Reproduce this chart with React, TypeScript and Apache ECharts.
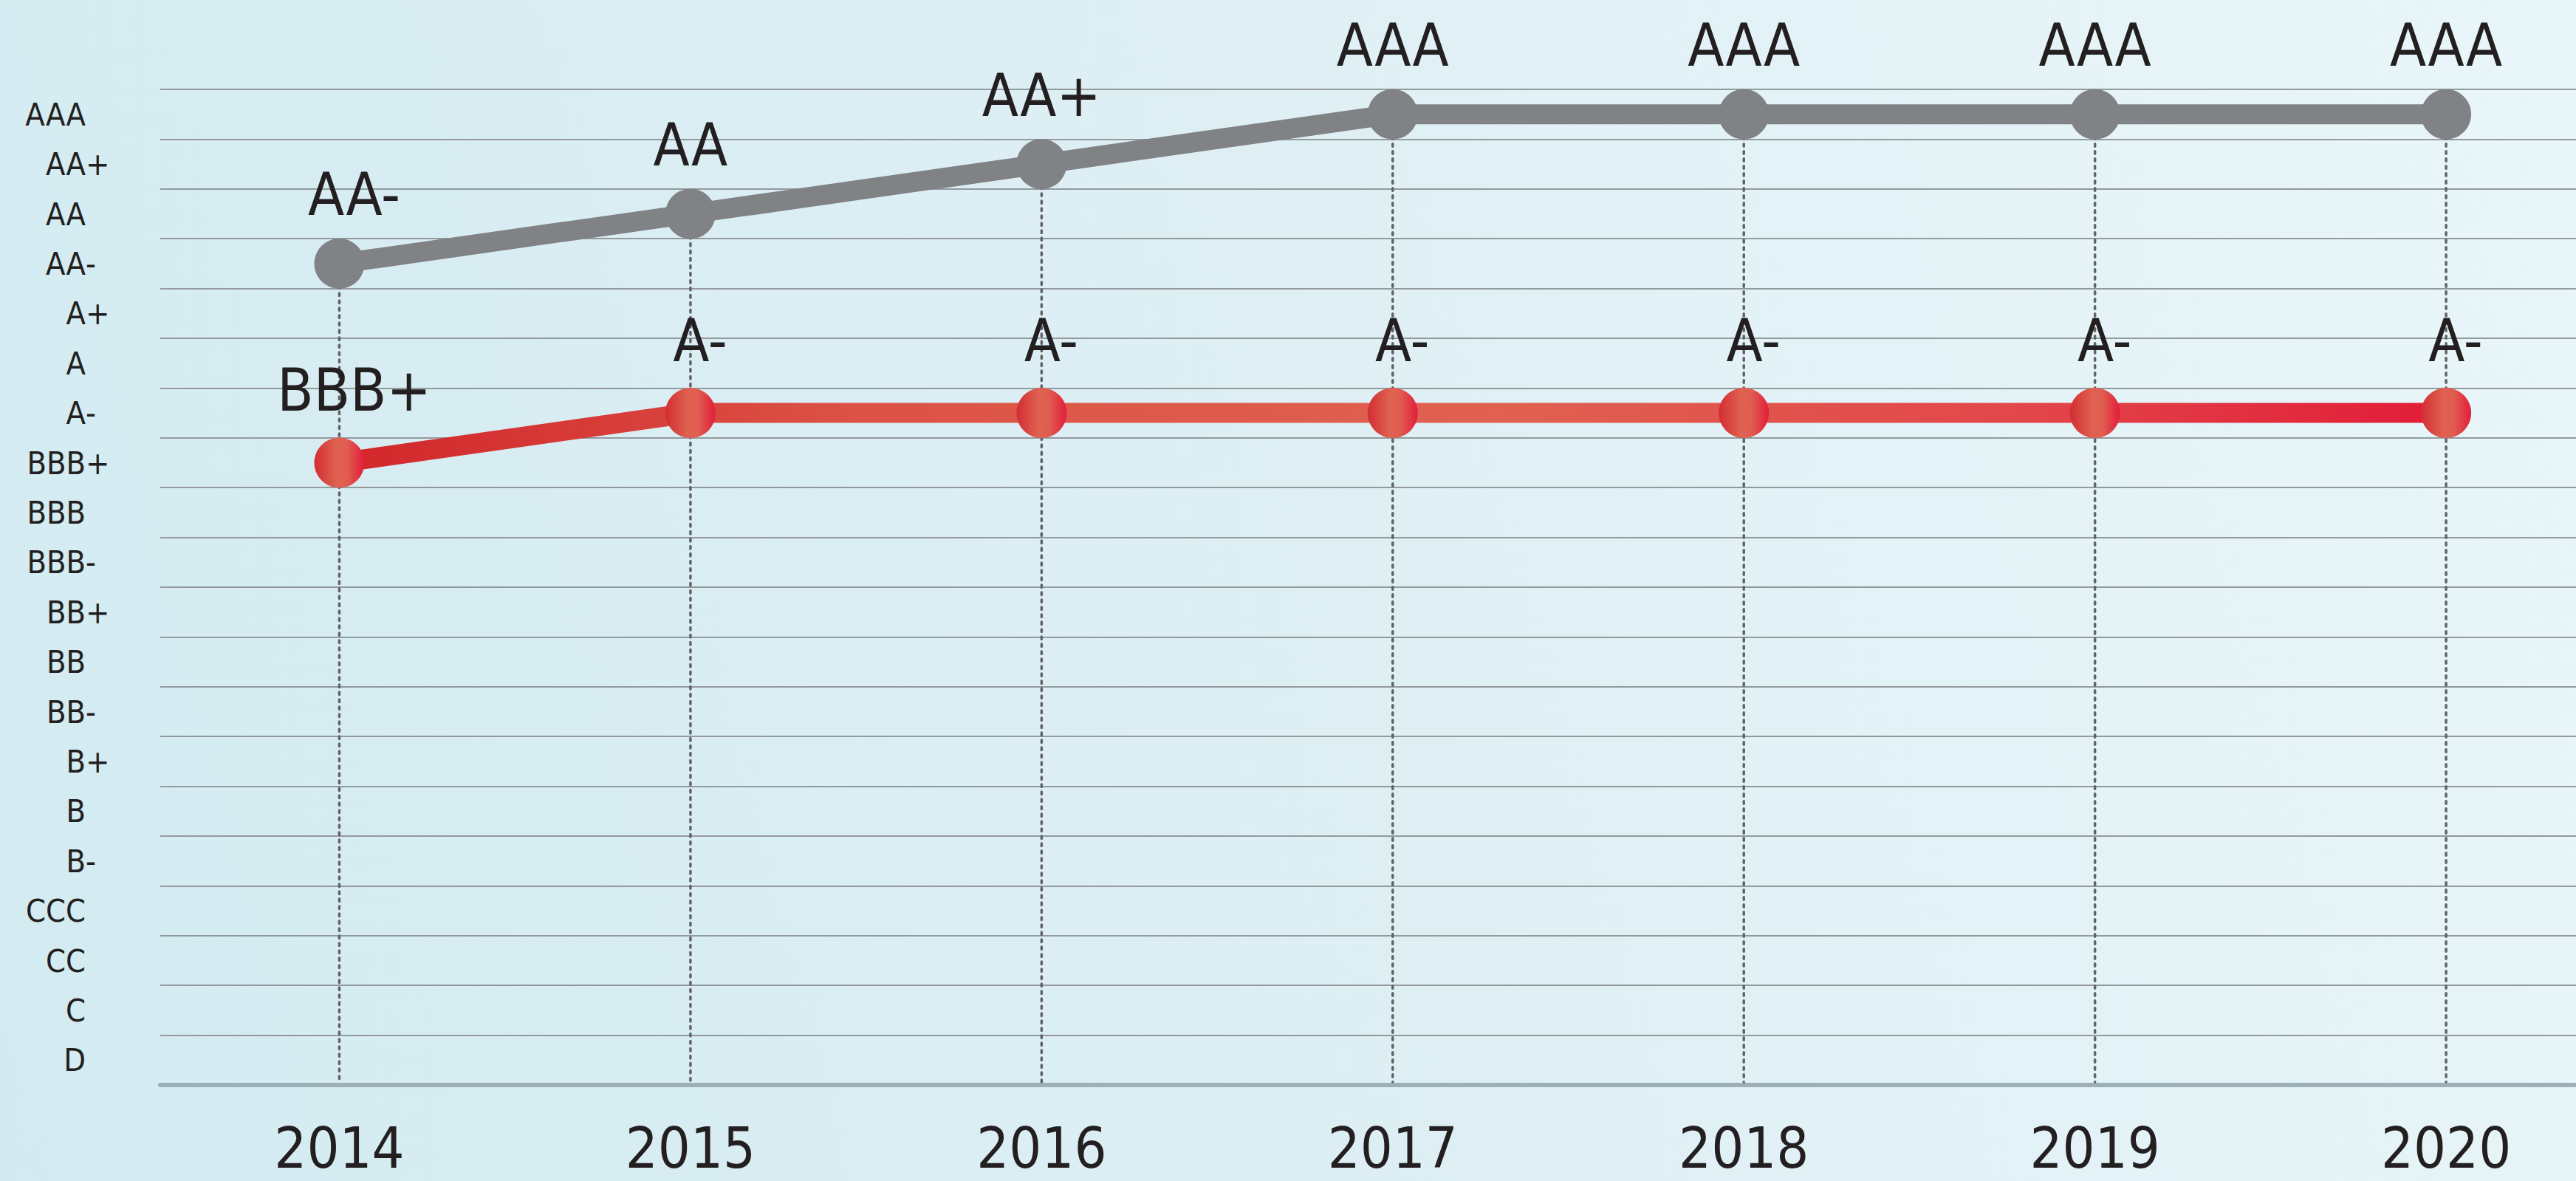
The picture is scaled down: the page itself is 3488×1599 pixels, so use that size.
import React, { useEffect, useRef } from "react";
import * as echarts from "echarts";

const years = [2014, 2015, 2016, 2017, 2018, 2019, 2020];
const ratings = ["AAA", "AA+", "AA", "AA-", "A+", "A", "A-", "BBB+", "BBB", "BBB-", "BB+", "BB", "BB-", "B+", "B", "B-", "CCC", "CC", "C", "D"];
const grayRatings = ["AA-", "AA", "AA+", "AAA", "AAA", "AAA", "AAA"];
const redRatings = ["BBB+", "A-", "A-", "A-", "A-", "A-", "A-"];

const FONT = '"Liberation Sans Narrow", "DejaVu Sans Condensed", "Roboto Condensed", Roboto, sans-serif';
const TEXT = "#231f20";

export default function App() {
  const ref = useRef<HTMLDivElement>(null);
  useEffect(() => {
    document.body.style.margin = "0";
    const chart = echarts.init(ref.current!, null, { renderer: "svg" });
    const grayData = years.map((y, i) => [y, grayRatings[i]]);
    const redData = years.map((y, i) => [y, redRatings[i]]);
    const firstShift = (d: any[], i: number) => (i === 0 ? { value: d, label: { offset: [20, 0] } } : d);
    const option: any = {
      animation: false,
      backgroundColor: "transparent",
      grid: { left: 217, right: 0, top: 121, bottom: 130, containLabel: false, outerBoundsMode: "none" },
      xAxis: {
        type: "value",
        min: 2013.49,
        max: 2020.37,
        splitLine: { show: false },
        axisTick: { show: false },
        axisLine: { show: true, lineStyle: { color: "#9db0b7", width: 6 } },
        axisLabel: {
          customValues: years,
          formatter: (v: number) => String(v),
          fontFamily: FONT,
          fontSize: 77,
          lineHeight: 77,
          color: TEXT,
          margin: 47,
        },
      },
      yAxis: {
        type: "category",
        data: ratings,
        inverse: true,
        boundaryGap: true,
        axisLine: { show: false },
        axisTick: { show: false },
        splitLine: { show: true, lineStyle: { color: "#929a9e", width: 2 } },
        axisLabel: {
          margin: 71,
          formatter: (v: string) => {
            const m = v.match(/^([A-D]+)([+-]?)$/);
            const letters = m ? m[1] : v;
            const sign = m && m[2] ? m[2] : " ";
            return `{t|${letters}}{s|${sign}}`;
          },
          rich: {
            t: { fontFamily: FONT, fontSize: 43, color: TEXT, align: "left" },
            s: { fontFamily: FONT, fontSize: 43, color: TEXT, width: 30, align: "left" },
          },
        },
      },
      series: [
        {
          type: "custom",
          z: 1,
          silent: true,
          data: grayData,
          renderItem: (params: any, api: any) => {
            const p = api.coord([api.value(0), api.value(1)]);
            const bottom = params.coordSys.y + params.coordSys.height;
            return {
              type: "line",
              shape: { x1: p[0], y1: p[1], x2: p[0], y2: bottom - 4 },
              style: { stroke: "#626366", lineWidth: 3.5, lineDash: [3.5, 6.5], lineCap: "round" },
            };
          },
        },
        {
          type: "line",
          z: 3,
          data: grayData.map(firstShift),
          symbol: "circle",
          symbolSize: 68,
          lineStyle: { color: "#808285", width: 27 },
          itemStyle: { color: "#808285" },
          label: {
            show: true,
            position: "top",
            distance: 19,
            formatter: (p: any) => grayRatings[p.dataIndex],
            fontFamily: FONT,
            fontSize: 80,
            lineHeight: 80,
            color: TEXT,
          },
        },
        {
          type: "line",
          z: 4,
          data: redData.map(firstShift),
          symbol: "circle",
          symbolSize: 68,
          lineStyle: {
            width: 27,
            color: new echarts.graphic.LinearGradient(0, 0, 1, 0, [
              { offset: 0, color: "#d2262b" },
              { offset: 0.25, color: "#dc5346" },
              { offset: 0.55, color: "#e06150" },
              { offset: 0.8, color: "#e2464a" },
              { offset: 1, color: "#e21c38" },
            ]),
          },
          itemStyle: {
            color: new echarts.graphic.LinearGradient(0, 0, 1, 0, [
              { offset: 0, color: "#d32d33" },
              { offset: 0.45, color: "#df6251" },
              { offset: 0.65, color: "#e05d50" },
              { offset: 1, color: "#e21d3a" },
            ]),
          },
          label: {
            show: true,
            position: "top",
            distance: 24,
            offset: [13, 0],
            formatter: (p: any) => redRatings[p.dataIndex],
            fontFamily: FONT,
            fontSize: 80,
            lineHeight: 80,
            color: TEXT,
          },
        },
      ],
    };
    chart.setOption(option);
    return () => chart.dispose();
  }, []);
  return (
    <div
      ref={ref}
      style={{
        position: "fixed",
        left: 0,
        top: 0,
        width: "100vw",
        height: "100vh",
        background: "linear-gradient(75deg, #d2ebf1 0%, #deeff4 50%, #e9f6f9 100%)",
      }}
    />
  );
}
